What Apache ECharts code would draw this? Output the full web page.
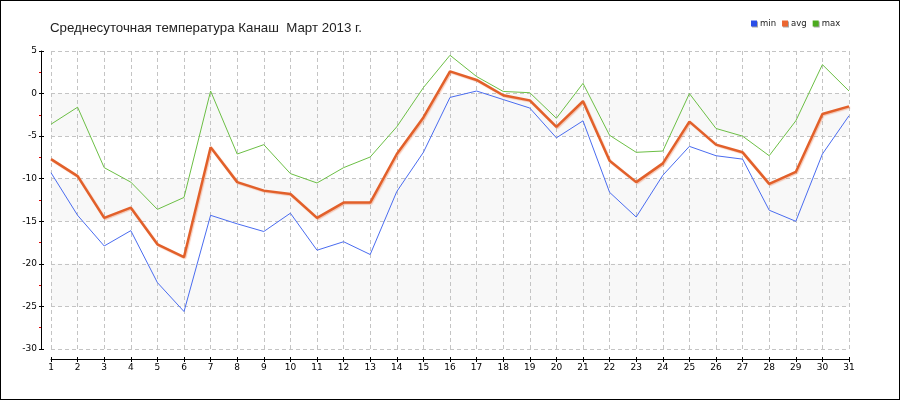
<!DOCTYPE html>
<html>
<head>
<meta charset="utf-8">
<script src="https://cdn.jsdelivr.net/npm/echarts@6/dist/echarts.min.js"></script>
<style>
html,body{margin:0;padding:0;background:#fff;}
#c{width:900px;height:400px;box-sizing:border-box;border:1px solid #000;}
</style>
</head>
<body>
<div id="c"></div>
<script>
var days = [];
for (var d = 1; d <= 31; d++) days.push(String(d));
var minVals = [-9.3,-14.3,-17.9,-16.1,-22.2,-25.6,-14.3,-15.3,-16.2,-14.05,-18.4,-17.4,-18.9,-11.5,-6.9,-0.45,0.3,-0.7,-1.7,-5.2,-3.2,-11.6,-14.5,-9.6,-6.2,-7.3,-7.7,-13.7,-15.0,-7.1,-2.6];
var avgVals = [-7.7,-9.7,-14.6,-13.4,-17.7,-19.2,-6.3,-10.4,-11.4,-11.8,-14.6,-12.8,-12.8,-7.1,-2.8,2.6,1.6,-0.2,-0.8,-3.9,-0.9,-7.9,-10.4,-8.2,-3.3,-6.0,-6.9,-10.6,-9.2,-2.4,-1.5];
var maxVals = [-3.6,-1.6,-8.7,-10.4,-13.6,-12.2,0.3,-7.1,-6.0,-9.4,-10.5,-8.7,-7.45,-3.9,0.7,4.5,2.0,0.25,0.1,-2.9,1.2,-4.9,-6.9,-6.75,0.0,-4.1,-5.0,-7.3,-3.2,3.4,0.3];
var titleText = 'Среднесуточная температура Канаш  Март 2013 г.';
var yMin = -30, yMax = 5, yStep = 5;

var chart = echarts.init(document.getElementById('c'), null, {renderer: 'canvas'});
var gridLine = {show: true, lineStyle: {color: '#c4c4c4', type: [4, 3], width: 1}};
chart.setOption({
  animation: false,
  backgroundColor: '#fff',
  title: {
    text: titleText, left: 44, top: 16,
    textStyle: {fontFamily: 'Liberation Sans, Arial, sans-serif', fontSize: 13.3, fontWeight: 'normal', color: '#222'}
  },
  legend: {
    left: 745, top: 13, icon: 'rect', itemWidth: 6, itemHeight: 6, itemGap: 6,
    textStyle: {fontFamily: 'DejaVu Sans, Verdana, sans-serif', fontSize: 8.5, color: '#222', padding: [0, 0, 0, -2]},
    itemStyle: {shadowColor: 'rgba(0,0,0,0.35)', shadowOffsetX: 1, shadowOffsetY: 1, shadowBlur: 0},
    data: ['min', 'avg', 'max']
  },
  grid: {left: 50, right: 50, top: 50, bottom: 50},
  xAxis: [{
    type: 'category', data: days, boundaryGap: false, offset: 10,
    axisLine: {show: true, onZero: false, lineStyle: {color: '#000', width: 1}},
    axisTick: {show: true, alignWithLabel: true, length: 3, lineStyle: {color: '#000'}},
    axisLabel: {fontFamily: 'DejaVu Sans, Verdana, sans-serif', fontSize: 9, color: '#000', margin: 4, interval: 0},
    splitLine: gridLine
  }, {
    type: 'category', data: days, boundaryGap: false, offset: 10, position: 'bottom',
    axisLine: {show: false, onZero: false},
    axisTick: {show: true, inside: true, length: 2, lineStyle: {color: '#000'}},
    axisLabel: {show: false}, splitLine: {show: false}
  }],
  yAxis: [{
    type: 'value', min: yMin, max: yMax, interval: yStep, offset: 10,
    axisLine: {show: true, onZero: false, lineStyle: {color: '#000', width: 1}},
    axisTick: {show: true, length: 2, lineStyle: {color: '#000'}},
    minorTick: {show: true, splitNumber: 2, length: 2, lineStyle: {color: '#e00000'}},
    axisLabel: {fontFamily: 'DejaVu Sans, Verdana, sans-serif', fontSize: 9, color: '#000', margin: 4},
    splitLine: gridLine,
    splitArea: {show: true, areaStyle: {color: ['rgba(255,255,255,0)', '#f8f8f8']}}
  }, {
    type: 'value', min: yMin, max: yMax, interval: yStep, offset: 10, position: 'left',
    axisLine: {show: false, onZero: false},
    axisTick: {show: true, inside: true, length: 3, lineStyle: {color: '#000'}},
    axisLabel: {show: false}, splitLine: {show: false}
  }],
  series: [{
    name: 'min', type: 'line', data: minVals, symbol: 'none', color: '#2a4ee8',
    lineStyle: {color: '#4a6cf0', width: 1}, z: 3
  }, {
    name: 'avg', type: 'line', data: avgVals, symbol: 'none', color: '#ec6630',
    lineStyle: {color: '#e2602a', width: 2.5, shadowColor: 'rgba(232,96,42,0.35)', shadowBlur: 1, shadowOffsetX: 1, shadowOffsetY: 1}, z: 4
  }, {
    name: 'max', type: 'line', data: maxVals, symbol: 'none', color: '#4caa1e',
    lineStyle: {color: '#6cbf45', width: 1}, z: 2
  }]
});
</script>
</body>
</html>
